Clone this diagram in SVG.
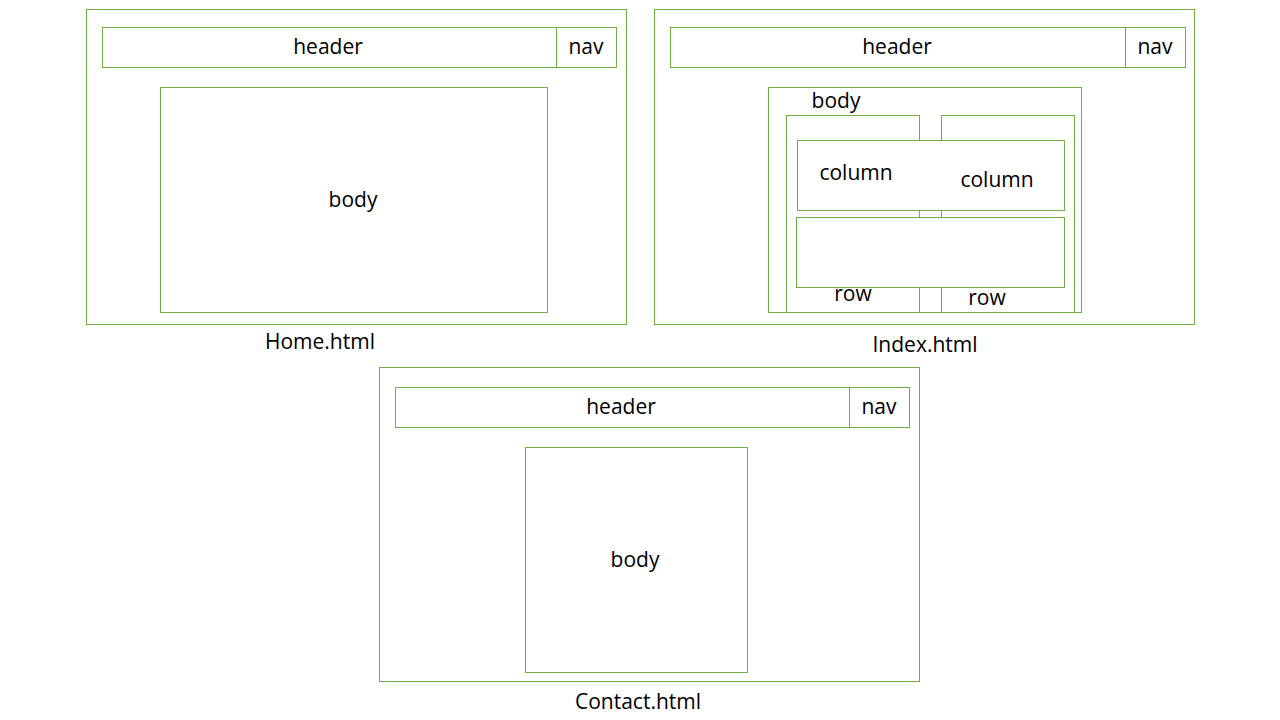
<svg xmlns="http://www.w3.org/2000/svg" width="1280" height="720" viewBox="0 0 1280 720">
<style>
rect{fill:none;stroke:#70ad47;stroke-width:1}
line{stroke:#70ad47;stroke-width:1}
text{font-family:"Open Sans","Liberation Sans",sans-serif;font-size:21px;fill:#000;text-anchor:middle;dominant-baseline:central}
</style>
<rect x="0" y="0" width="1280" height="720" style="fill:#fff;stroke:none"/>
<g id="home">
<rect x="86.5" y="9.5" width="540" height="315"/>
<g id="home-header"><rect x="102.5" y="27.5" width="454" height="40"/><text x="328" y="46">header</text></g>
<g id="home-nav"><rect x="556.5" y="27.5" width="60" height="40"/><text x="586" y="46">nav</text></g>
<g id="home-body"><rect x="160.5" y="87.5" width="387" height="225"/><text x="353" y="199">body</text></g>
<text x="320" y="341">Home.html</text>
</g>
<g id="index">
<rect x="654.5" y="9.5" width="540" height="315"/>
<g id="index-header"><rect x="670.5" y="27.5" width="455" height="40"/><text x="897" y="46">header</text></g>
<g id="index-nav"><rect x="1125.5" y="27.5" width="60" height="40"/><text x="1155" y="46">nav</text></g>
<g id="index-body"><rect x="768.5" y="87.5" width="313" height="225"/><text x="836" y="100">body</text></g>
<g id="index-row1"><rect x="786.5" y="115.5" width="133" height="197"/><text x="853" y="293">row</text></g>
<g id="index-row2"><rect x="941.5" y="115.5" width="133" height="197"/><text x="987" y="297">row</text></g>
<g id="index-colbox"><rect x="797.5" y="140.5" width="267" height="70" style="fill:#fff"/><text x="856" y="172">column</text><text x="997" y="179">column</text></g>
<g id="index-lower"><rect x="796.5" y="217.5" width="268" height="70" style="fill:#fff"/></g>
<text x="925" y="344">Index.html</text>
</g>
<g id="contact">
<rect x="379.5" y="367.5" width="540" height="314"/>
<g id="contact-header"><rect x="395.5" y="387.5" width="454" height="40"/><text x="621" y="406">header</text></g>
<g id="contact-nav"><rect x="849.5" y="387.5" width="60" height="40"/><text x="879" y="406">nav</text></g>
<g id="contact-body"><rect x="525.5" y="447.5" width="222" height="225"/><text x="635" y="559">body</text></g>
<text x="638" y="701">Contact.html</text>
</g>
<g id="connectors"></g>
</svg>
